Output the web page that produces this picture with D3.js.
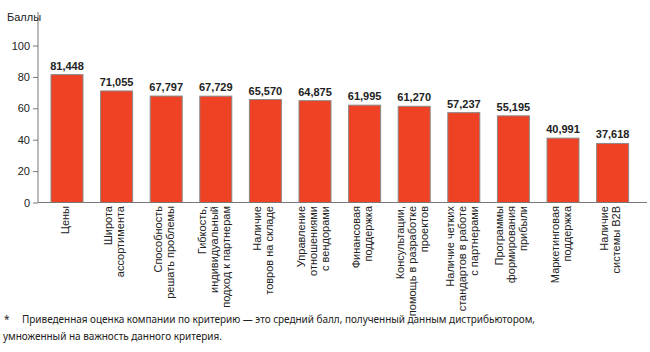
<!DOCTYPE html>
<html><head><meta charset="utf-8">
<script src="https://cdn.jsdelivr.net/npm/d3@7"></script>
<style>body{margin:0;background:#fff}svg{display:block}</style>
</head><body>
<svg id="c" width="650" height="352"></svg>
<script>
const categories = [
  ["Цены"],
  ["Широта", "ассортимента"],
  ["Способность", "решать проблемы"],
  ["Гибкость,", "индивидуальный", "подход к партнерам"],
  ["Наличие", "товров на складе"],
  ["Управление", "отношениями", "с вендорами"],
  ["Финансовая", "поддержка"],
  ["Консультации,", "помощь в разработке", "проектов"],
  ["Наличие четких", "стандартов в работе", "с партнерами"],
  ["Программы", "формирования", "прибыли"],
  ["Маркетинговая", "поддержка"],
  ["Наличие", "системы B2B"]
];
const values = [81.448, 71.055, 67.797, 67.729, 65.570, 64.875, 61.995, 61.270, 57.237, 55.195, 40.991, 37.618];
const valueLabels = ["81,448","71,055","67,797","67,729","65,570","64,875","61,995","61,270","57,237","55,195","40,991","37,618"];
const yTicks = [0, 20, 40, 60, 80, 100];
const yTitle = "Баллы";
const footStar = "*";
const footnote = ["Приведенная оценка компании по критерию — это средний балл, полученный данным дистрибьютором,",
                  "умноженный на важность данного критерия."];

const svg = d3.select("#c");
const axisX = 38;
const x = d3.scaleBand().domain(d3.range(values.length)).range([axisX, 641.6]).paddingInner(0.355).paddingOuter(0.262);
const y = d3.scaleLinear().domain([0, 100]).range([202.5, 45.5]);
const font = "Liberation Sans, Arial, sans-serif";
const txt = "#222";

// y axis
const yAxis = svg.append("g").attr("transform", `translate(${axisX},0)`)
  .call(d3.axisLeft(y).tickValues(yTicks).tickSize(5).tickPadding(3).tickFormat(d3.format("d")));
yAxis.select(".domain").remove();
yAxis.selectAll(".tick line").attr("stroke", "#777");
yAxis.selectAll(".tick text").attr("font-family", font).attr("font-size", 11).attr("fill", txt);
svg.append("line").attr("x1", axisX).attr("x2", axisX).attr("y1", 12).attr("y2", y(0)).attr("stroke", "#777");
svg.append("text").attr("x", 7).attr("y", 21).attr("font-family", font).attr("font-size", 11).attr("fill", txt).text(yTitle);

// bars
svg.append("g").selectAll("rect").data(values).join("rect")
  .attr("x", (d, i) => x(i)).attr("width", x.bandwidth())
  .attr("y", d => y(d)).attr("height", d => y(0) - y(d))
  .attr("fill", "#ef4123").attr("stroke", "#8a8a8a").attr("stroke-width", 1);

// baseline
svg.append("line").attr("x1", axisX).attr("x2", 647).attr("y1", y(0)).attr("y2", y(0)).attr("stroke", "#777");

// value labels
svg.append("g").selectAll("text").data(values).join("text")
  .attr("x", (d, i) => x(i) + x.bandwidth() / 2).attr("y", d => y(d) - 5)
  .attr("text-anchor", "middle").attr("font-family", font).attr("font-size", 11).attr("font-weight", "bold")
  .attr("fill", txt).text((d, i) => valueLabels[i]);

// category labels
const lh = 12;
const cg = svg.append("g");
categories.forEach((lines, i) => {
  const cx = x(i) + x.bandwidth() / 2 - 2;
  const n = lines.length;
  lines.forEach((ln, j) => {
    const off = (j - (n - 1) / 2) * lh;
    cg.append("text")
      .attr("transform", `translate(${cx + off},206) rotate(-90)`)
      .attr("text-anchor", "end").attr("dy", "0.35em")
      .attr("font-family", font).attr("font-size", 11).attr("fill", txt).text(ln);
  });
});

// footnote
const ff = "Noto Sans, sans-serif";
svg.append("text").attr("x", 4).attr("y", 323).attr("font-family", ff).attr("font-size", 10)
  .attr("fill", txt).text(footStar);
svg.append("text").attr("x", 22).attr("y", 323).attr("font-family", ff).attr("font-size", 10)
  .attr("fill", txt).attr("textLength", 513).attr("lengthAdjust", "spacing").text(footnote[0]);
svg.append("text").attr("x", 3).attr("y", 340).attr("font-family", ff).attr("font-size", 10)
  .attr("fill", txt).attr("textLength", 219).attr("lengthAdjust", "spacing").text(footnote[1]);
</script>
</body></html>
